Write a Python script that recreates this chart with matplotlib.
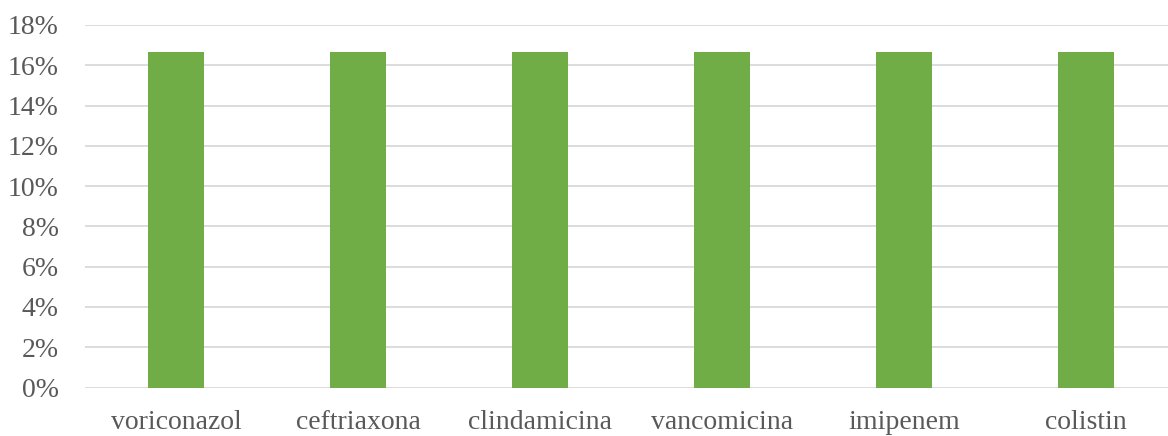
import numpy as np
import matplotlib.pyplot as plt
from matplotlib.ticker import FuncFormatter

drugs = ["voriconazol", "ceftriaxona", "clindamicina", "vancomicina", "imipenem", "colistin"]
share = [1/6, 1/6, 1/6, 1/6, 1/6, 1/6]
yticks = [0, 0.02, 0.04, 0.06, 0.08, 0.10, 0.12, 0.14, 0.16, 0.18]

plt.rcParams['font.family'] = ['Liberation Serif', 'DejaVu Serif']

fig = plt.figure(figsize=(11.68, 4.36), dpi=100)
ax = fig.add_axes([85/1168, 48.5/436, 1092/1168, 362.5/436])

x = np.arange(len(drugs))
ax.bar(x, share, width=0.313, color='#70ad47', zorder=3)

ax.set_xlim(-0.5, len(drugs) - 0.5)
ax.set_ylim(0, 0.18)
ax.set_yticks(yticks)
ax.yaxis.set_major_formatter(FuncFormatter(lambda v, p: f"{v*100:.0f}%"))
ax.set_xticks(x)
ax.set_xticklabels(drugs)

ax.grid(axis='y', color='#d9d9d9', linewidth=1.3, zorder=0)
for s in ax.spines.values():
    s.set_visible(False)
ax.tick_params(axis='both', length=0, labelsize=20, colors='#595959')
ax.tick_params(axis='x', pad=16)
ax.tick_params(axis='y', pad=19)

fig.savefig("out.png", dpi=100)
